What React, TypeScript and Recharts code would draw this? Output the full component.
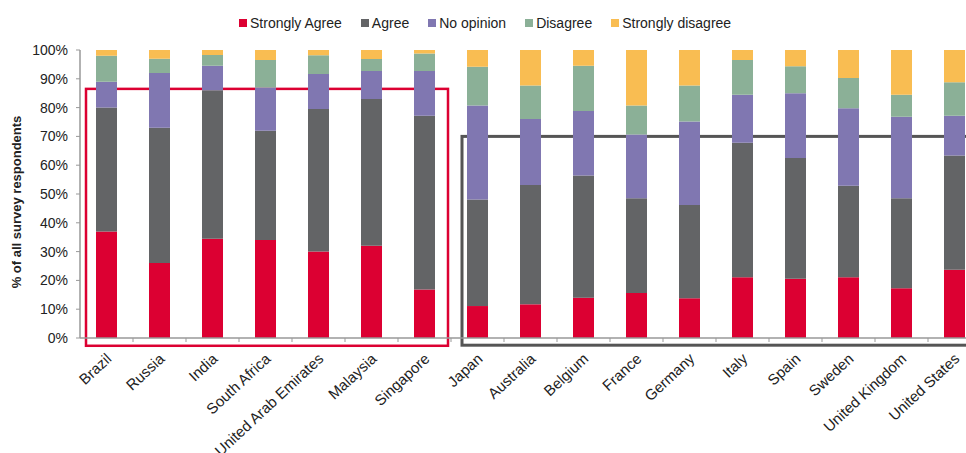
import React from 'react';
import { BarChart, Bar, XAxis, YAxis, Legend, ReferenceArea } from 'recharts';

const COUNTRIES = [
  'Brazil', 'Russia', 'India', 'South Africa', 'United Arab Emirates', 'Malaysia', 'Singapore',
  'Japan', 'Australia', 'Belgium', 'France', 'Germany', 'Italy', 'Spain', 'Sweden',
  'United Kingdom', 'United States',
];

const STRONGLY_AGREE = [37, 26, 34.5, 34, 30, 32, 16.8, 11.1, 11.7, 14, 15.6, 13.8, 21.1, 20.6, 21.1, 17.3, 23.7];
const AGREE = [43, 47, 51.5, 38, 49.5, 51, 60.4, 37, 41.4, 42.4, 32.9, 32.4, 46.7, 41.9, 31.8, 31.2, 39.7];
const NO_OPINION = [9, 19, 8.5, 15, 12.2, 9.7, 15.5, 32.6, 22.9, 22.4, 22.2, 29, 16.7, 22.5, 26.9, 28.3, 13.8];
const DISAGREE = [9, 5, 3.8, 9.5, 6.5, 4.2, 6.1, 13.5, 11.7, 15.7, 10, 12.5, 12, 9.4, 10.5, 7.7, 11.6];
const STRONGLY_DISAGREE = [2, 3, 1.7, 3.5, 1.8, 3.1, 1.2, 5.8, 12.3, 5.5, 19.3, 12.3, 3.5, 5.6, 9.7, 15.5, 11.2];

const Y_TICKS = [0, 10, 20, 30, 40, 50, 60, 70, 80, 90, 100];

const SERIES = [
  { key: 'sa', name: 'Strongly Agree', color: '#DC0032', values: STRONGLY_AGREE },
  { key: 'a', name: 'Agree', color: '#636466', values: AGREE },
  { key: 'no', name: 'No opinion', color: '#8077B1', values: NO_OPINION },
  { key: 'd', name: 'Disagree', color: '#8BB097', values: DISAGREE },
  { key: 'sd', name: 'Strongly disagree', color: '#F9BD52', values: STRONGLY_DISAGREE },
];

const data = COUNTRIES.map((country, i) => {
  const row: any = { country };
  SERIES.forEach((s) => (row[s.key] = s.values[i]));
  return row;
});

const FONT = '"Liberation Sans", Arial, sans-serif';
const BAND = 53;

const LegendContent = () => (
  <div style={{ display: 'flex', alignItems: 'flex-start', boxSizing: 'border-box', height: 40, paddingTop: 5, paddingLeft: 239, fontFamily: FONT, fontSize: 14, lineHeight: '16px', color: '#222' }}>
    {SERIES.map((s) => (
      <div key={s.key} style={{ display: 'flex', alignItems: 'center', marginRight: 19 }}>
        <span style={{ width: 8, height: 8, background: s.color, marginRight: 3, display: 'inline-block' }} />
        <span>{s.name}</span>
      </div>
    ))}
  </div>
);

const XTick = ({ x, y, payload }: any) => {
  const ax = x + 6;
  const ay = y + 22;
  return (
    <g>
      <line x1={x + BAND / 2} y1={y} x2={x + BAND / 2} y2={y + 4} stroke="#999" />
      <text x={ax} y={ay} transform={`rotate(-43, ${ax}, ${ay})`} textAnchor="end"
        fontSize={15} fill="#222" fontFamily={FONT}>
        {payload.value}
      </text>
    </g>
  );
};

const YTitle = ({ viewBox }: any) => {
  const cx = 18;
  const cy = viewBox.y + viewBox.height / 2 + 8;
  return (
    <text x={cx} y={cy} transform={`rotate(-90, ${cx}, ${cy})`} textAnchor="middle" dominantBaseline="middle"
      fontSize={13} fontWeight="bold" fill="#222" fontFamily={FONT}>
      % of all survey respondents
    </text>
  );
};

export default function App() {
  return (
    <div style={{ position: 'fixed', left: 0, top: 0, width: 966, height: 453, overflow: 'hidden', background: '#fff', fontFamily: FONT }}>
      <BarChart width={1000} height={453} data={data} margin={{ top: 10, right: 19, left: 0, bottom: 85 }} barSize={21}>
        <Legend verticalAlign="top" content={<LegendContent />} />
        <XAxis dataKey="country" interval={0} tickLine={false} tickSize={0} tickMargin={0}
          axisLine={{ stroke: '#999', strokeWidth: 1.5 }} tick={<XTick />} />
        <YAxis domain={[0, 100]} ticks={Y_TICKS} width={80} tickFormatter={(v) => `${v}%`}
          axisLine={{ stroke: '#999', strokeWidth: 1.5 }} tickLine={{ stroke: '#999' }} tickSize={4} tickMargin={8}
          tick={{ fontSize: 14, fill: '#222', fontFamily: FONT }} allowDataOverflow label={<YTitle />} />
        {SERIES.map((s) => (
          <Bar key={s.key} dataKey={s.key} name={s.name} stackId="1" fill={s.color} isAnimationActive={false} />
        ))}
        <ReferenceArea x1="Brazil" x2="Singapore" y1={-2.7} y2={86.5} ifOverflow="visible"
          shape={(p: any) => (
            <rect x={p.x + 6} y={p.y} width={p.width - 9} height={p.height} fill="none" stroke="#DC0032" strokeWidth={2.5} />
          )} />
        <ReferenceArea x1="Japan" x2="United States" y1={-2.5} y2={70} ifOverflow="visible"
          shape={(p: any) => (
            <rect x={p.x + 11} y={p.y} width={p.width - 11} height={p.height} fill="none" stroke="#555" strokeWidth={3} />
          )} />
      </BarChart>
    </div>
  );
}
